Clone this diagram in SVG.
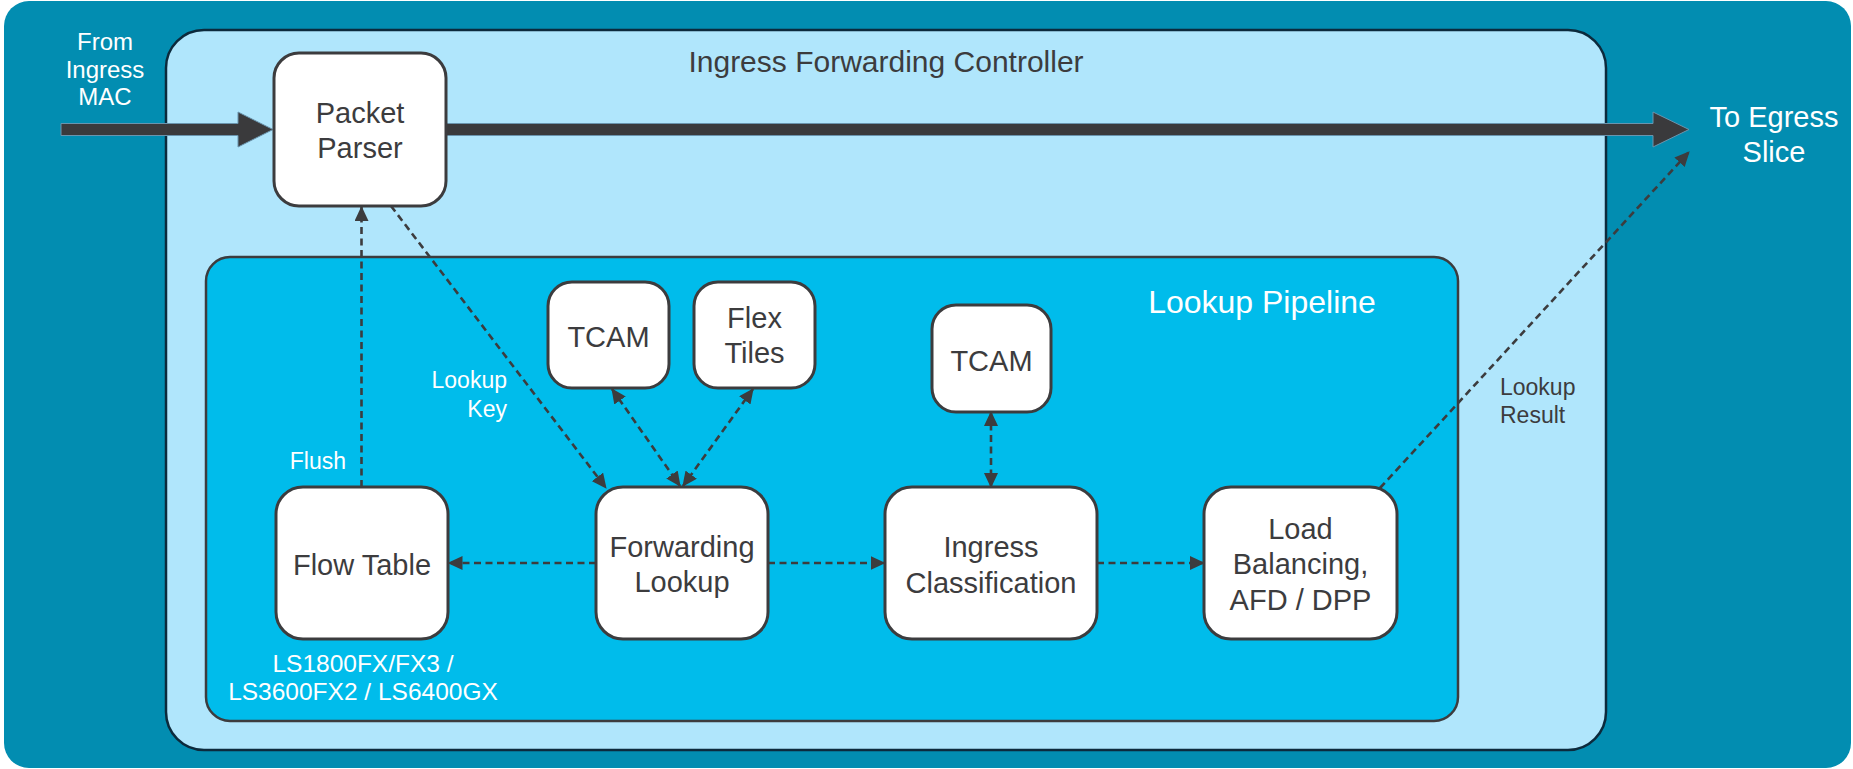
<svg xmlns="http://www.w3.org/2000/svg" width="1853" height="769" viewBox="0 0 1853 769">
  <style>
    .node rect { fill: #ffffff; stroke: #3c3c3e; stroke-width: 3; }
    .nt { font-family: "Liberation Sans", Arial, sans-serif; font-size: 29px; fill: #3c3c3e; text-anchor: middle; }
    .wt { font-family: "Liberation Sans", Arial, sans-serif; fill: #ffffff; }
    .dt { font-family: "Liberation Sans", Arial, sans-serif; fill: #3c3c3e; }
    .dash { fill: none; stroke: #3c3c3e; stroke-width: 2.6; stroke-dasharray: 7 4.5; }
    .big { fill: #3a3a3c; stroke: #6a94ad; stroke-width: 1; }
  </style>
  <defs>
    <marker id="ah" markerUnits="userSpaceOnUse" markerWidth="15" markerHeight="14" viewBox="0 0 15 14" refX="14" refY="7" orient="auto-start-reverse">
      <path d="M0,0 L15,7 L0,14 z" fill="#3c3c3e"/>
    </marker>
  </defs>

  <g id="background">
    <rect x="0" y="0" width="1853" height="769" fill="#ffffff"/>
    <rect x="4" y="1" width="1847" height="767" rx="25" ry="25" fill="#028db1"/>
  </g>

  <g id="ingress-forwarding-controller">
    <rect x="166" y="30" width="1440" height="720" rx="38" ry="38" fill="#b0e6fc" stroke="#0c2a3c" stroke-width="2.5"/>
    <text class="dt" x="886" y="72" font-size="30" text-anchor="middle">Ingress Forwarding Controller</text>
  </g>

  <g id="lookup-pipeline">
    <rect x="206" y="257" width="1252" height="464" rx="24" ry="24" fill="#00bceb" stroke="#3c3c3e" stroke-width="2.5"/>
    <text class="wt" x="1262" y="313" font-size="32" text-anchor="middle">Lookup Pipeline</text>
  </g>

  <g id="labels">
    <text class="wt" font-size="24" text-anchor="middle"><tspan x="105" y="50">From</tspan><tspan x="105" y="78">Ingress</tspan><tspan x="105" y="105">MAC</tspan></text>
    <text class="wt" font-size="29" text-anchor="middle"><tspan x="1774" y="127">To Egress</tspan><tspan x="1774" y="162">Slice</tspan></text>
    <text class="wt" font-size="23" text-anchor="end" x="346" y="469">Flush</text>
    <text class="wt" font-size="23" text-anchor="end"><tspan x="507" y="388">Lookup</tspan><tspan x="507" y="417">Key</tspan></text>
    <text class="dt" font-size="23"><tspan x="1500" y="395">Lookup</tspan><tspan x="1500" y="423">Result</tspan></text>
    <text class="wt" font-size="24.5" text-anchor="middle"><tspan x="363" y="672">LS1800FX/FX3 /</tspan><tspan x="363" y="700">LS3600FX2 / LS6400GX</tspan></text>
  </g>

  <g id="connectors">
    <polygon class="big" points="61,123.5 238,123.5 238,112 273,129.5 238,147 238,135.5 61,135.5"/>
    <polygon class="big" points="446,123.5 1653,123.5 1653,112 1689,129.5 1653,147 1653,135.5 446,135.5"/>
    <line class="dash" x1="361.5" y1="487" x2="361.5" y2="207" marker-end="url(#ah)"/>
    <line class="dash" x1="391" y1="206" x2="606" y2="488" marker-end="url(#ah)"/>
    <line class="dash" x1="612" y1="389" x2="680" y2="486" marker-start="url(#ah)" marker-end="url(#ah)"/>
    <line class="dash" x1="753" y1="389" x2="683" y2="486" marker-start="url(#ah)" marker-end="url(#ah)"/>
    <line class="dash" x1="596" y1="563" x2="448.5" y2="563" marker-end="url(#ah)"/>
    <line class="dash" x1="768" y1="563" x2="884.5" y2="563" marker-end="url(#ah)"/>
    <line class="dash" x1="1097" y1="563" x2="1204" y2="563" marker-end="url(#ah)"/>
    <line class="dash" x1="991" y1="412" x2="991" y2="487" marker-start="url(#ah)" marker-end="url(#ah)"/>
    <line class="dash" x1="1380" y1="488" x2="1689" y2="152" marker-end="url(#ah)"/>
  </g>

  <g id="packet-parser" class="node">
    <rect x="274" y="53" width="172" height="153" rx="25" ry="25"/>
    <text class="nt"><tspan x="360" y="123">Packet</tspan><tspan x="360" y="158">Parser</tspan></text>
  </g>

  <g id="tcam-1" class="node">
    <rect x="548" y="282" width="121" height="106" rx="24" ry="24"/>
    <text class="nt" x="608.5" y="347">TCAM</text>
  </g>

  <g id="flex-tiles" class="node">
    <rect x="694" y="282" width="121" height="106" rx="24" ry="24"/>
    <text class="nt"><tspan x="754.5" y="328">Flex</tspan><tspan x="754.5" y="363">Tiles</tspan></text>
  </g>

  <g id="tcam-2" class="node">
    <rect x="932" y="305" width="119" height="107" rx="24" ry="24"/>
    <text class="nt" x="991.5" y="371">TCAM</text>
  </g>

  <g id="flow-table" class="node">
    <rect x="276" y="487" width="172" height="152" rx="27" ry="27"/>
    <text class="nt" x="362" y="575">Flow Table</text>
  </g>

  <g id="forwarding-lookup" class="node">
    <rect x="596" y="487" width="172" height="152" rx="27" ry="27"/>
    <text class="nt"><tspan x="682" y="557">Forwarding</tspan><tspan x="682" y="592">Lookup</tspan></text>
  </g>

  <g id="ingress-classification" class="node">
    <rect x="885" y="487" width="212" height="152" rx="27" ry="27"/>
    <text class="nt"><tspan x="991" y="557">Ingress</tspan><tspan x="991" y="593">Classification</tspan></text>
  </g>

  <g id="load-balancing" class="node">
    <rect x="1204" y="487" width="193" height="152" rx="27" ry="27"/>
    <text class="nt"><tspan x="1300.5" y="539">Load</tspan><tspan x="1300.5" y="574">Balancing,</tspan><tspan x="1300.5" y="610">AFD / DPP</tspan></text>
  </g>
</svg>
